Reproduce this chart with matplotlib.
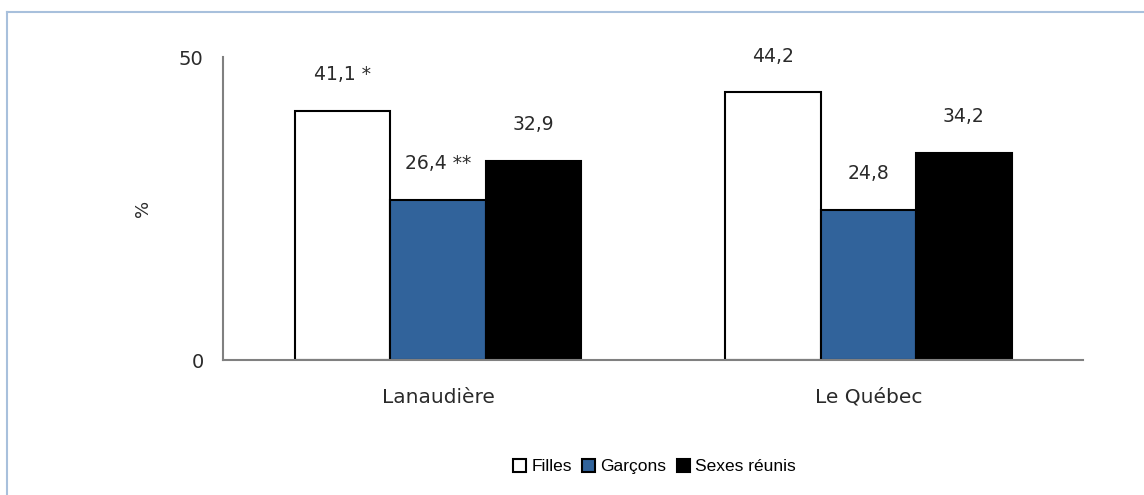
import matplotlib.pyplot as plt
import numpy as np
from matplotlib.patches import Patch

regions = ["Lanaudière", "Le Québec"]
series = ["Filles", "Garçons", "Sexes réunis"]
filles = [41.1, 44.2]
garcons = [26.4, 24.8]
reunis = [32.9, 34.2]
labels_filles = ["41,1 *", "44,2"]
labels_garcons = ["26,4 **", "24,8"]
labels_reunis = ["32,9", "34,2"]

colors = ["white", "#31639b", "black"]
txt = "#2a2a2a"

fig = plt.figure(figsize=(11.44, 4.95), dpi=100)
ax = fig.add_axes([0.195, 0.2727, 0.752, 0.612])

x = np.arange(len(regions))
w = 0.222
data = [filles, garcons, reunis]
labs = [labels_filles, labels_garcons, labels_reunis]
for i, (vals, lab) in enumerate(zip(data, labs)):
    bars = ax.bar(x + (i - 1) * w, vals, w, color=colors[i], edgecolor="black", linewidth=1.5)
    for b, t in zip(bars, lab):
        ax.annotate(t, (b.get_x() + b.get_width() / 2, b.get_height()),
                    xytext=(0, 26), textcoords="offset points",
                    ha="center", va="center", fontsize=13.5, color=txt)

ax.set_xlim(-0.5, 1.5)
ax.set_ylim(0, 50)
ax.set_yticks([0, 50])
ax.set_yticklabels(["0", "50"], fontsize=14, color=txt)
ax.set_xticks(x)
ax.set_xticklabels(regions, fontsize=14.5, color=txt)
ax.tick_params(length=0, pad=14)
ax.tick_params(axis="x", pad=20)
ax.set_ylabel("%", fontsize=13, color=txt, labelpad=19)
for s in ["top", "right"]:
    ax.spines[s].set_visible(False)
for s in ["left", "bottom"]:
    ax.spines[s].set_color("#808080")
    ax.spines[s].set_linewidth(1.5)

handles = [Patch(facecolor=c, edgecolor="black", linewidth=1.5) for c in colors]
fig.legend(handles, series, loc="center", bbox_to_anchor=(0.572, 0.057), ncol=3,
           frameon=False, prop={"family": "Liberation Sans", "size": 12.5},
           handlelength=0.75, handleheight=0.75, handletextpad=0.3, columnspacing=0.6)

# cropped chart frame (top and left edges only)
fig.add_artist(plt.Line2D([7 / 1144, 1], [1 - 12 / 495, 1 - 12 / 495], color="#a8c0dc", lw=1.5))
fig.add_artist(plt.Line2D([7 / 1144, 7 / 1144], [0, 1 - 12 / 495], color="#a8c0dc", lw=1.5))

fig.savefig("out.png", dpi=100)
